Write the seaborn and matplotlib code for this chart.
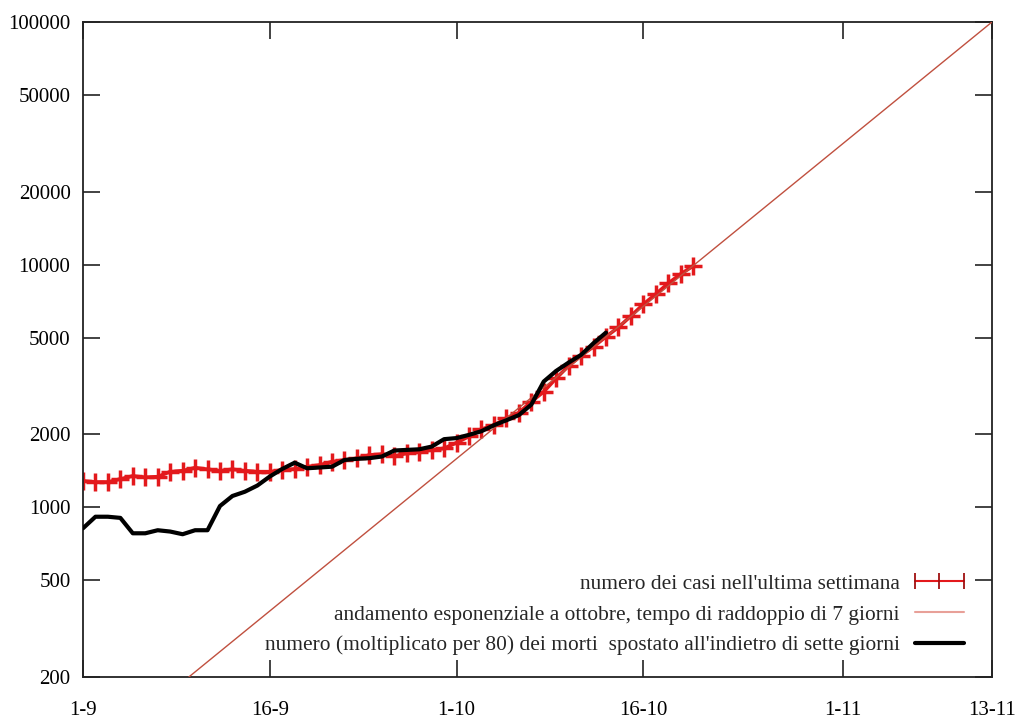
import matplotlib
matplotlib.use("Agg")
import matplotlib.pyplot as plt
from matplotlib.lines import Line2D
import pandas as pd
import seaborn as sns

# giorni contati dal 1 settembre (giorno 0 = 1-9)
casi_giorni = list(range(0, 50))
casi = [1285, 1272, 1272, 1309, 1347, 1330, 1338, 1403, 1416, 1457,
        1435, 1416, 1435, 1416, 1403, 1403, 1426, 1440, 1471, 1495,
        1543, 1568, 1593, 1644, 1657, 1628, 1670, 1696, 1723, 1751,
        1847, 1960, 2098, 2184, 2328, 2455, 2725, 2995, 3402, 3830,
        4220, 4593, 5050, 5521, 6145, 6866, 7568, 8381, 9152, 9876]

morti_giorni = list(range(0, 43))
morti_x80 = [820, 915, 915, 905, 782, 782, 805, 795, 775, 805,
             805, 1013, 1114, 1160, 1230, 1340, 1440, 1528, 1449, 1460,
             1471, 1568, 1585, 1595, 1620, 1715, 1725, 1735, 1780, 1910,
             1930, 1990, 2060, 2180, 2285, 2400, 2650, 3300, 3650, 3950,
             4250, 4750, 5250]

# retta esponenziale (letta agli estremi del grafico)
exp_giorni = [8.5, 73]
exp_valori = [200, 100000]

tick_giorni = [0, 15, 30, 45, 61, 73]
tick_date = ['1-9', '16-9', '1-10', '16-10', '1-11', '13-11']
y_ticks = [200, 500, 1000, 2000, 5000, 10000, 20000, 50000, 100000]

lab_casi = "numero dei casi nell'ultima settimana"
lab_exp = "andamento esponenziale a ottobre, tempo di raddoppio di 7 giorni"
lab_morti = "numero (moltiplicato per 80) dei morti  spostato all'indietro di sette giorni"

sns.set_theme(style="ticks")
plt.rcParams['font.family'] = ['Liberation Serif', 'DejaVu Serif']

rosso = '#e3191c'
col_exp = '#c0503f'

casi_df = pd.DataFrame({"giorno": casi_giorni, "valore": casi})
morti_df = pd.DataFrame({"giorno": morti_giorni, "valore": morti_x80})
exp_df = pd.DataFrame({"giorno": exp_giorni, "valore": exp_valori})

fig = plt.figure(figsize=(10.19, 7.18), dpi=100)
ax = fig.add_axes([83/1019, 41/718, 909/1019, 655/718])

sns.lineplot(data=casi_df, x="giorno", y="valore", ax=ax, color=rosso,
             lw=2.6, marker='+', markersize=13, markeredgewidth=2.5,
             markeredgecolor=rosso, zorder=2)
sns.lineplot(data=exp_df, x="giorno", y="valore", ax=ax, color=col_exp,
             lw=1.0, zorder=3)
sns.lineplot(data=morti_df, x="giorno", y="valore", ax=ax, color='black',
             lw=3, zorder=4)

ax.set_yscale('log')
ax.set_xlim(0, 73)
ax.set_ylim(200, 100000)
ax.set_xticks(tick_giorni)
ax.set_xticklabels(tick_date)
ax.set_yticks(y_ticks)
ax.set_yticklabels([str(v) for v in y_ticks])
ax.minorticks_off()
ax.set_xlabel("")
ax.set_ylabel("")

for s in ax.spines.values():
    s.set_visible(True)
    s.set_linewidth(1.3)
    s.set_color('#222222')

ax.tick_params(axis='both', direction='in', length=12, width=1.2,
               top=True, right=True, labelsize=15, colors='#222222',
               labelcolor='black')
ax.tick_params(axis='x', pad=17)
ax.tick_params(axis='y', pad=9)

handles = [
    Line2D([], [], color=rosso, lw=1.5, marker='|', markersize=11,
           markeredgewidth=1.3, markeredgecolor='#a01010'),
    Line2D([], [], color='#e8a098', lw=1.5),
    Line2D([], [], color='black', lw=3),
]
ax.legend(handles, [lab_casi, lab_exp, lab_morti], loc='lower right',
          frameon=False, markerfirst=False, numpoints=3, fontsize=15.4,
          handlelength=2.9, handletextpad=0.4, labelspacing=0.5,
          borderaxespad=0.62)

fig.savefig("out.png", dpi=100, facecolor='white')
